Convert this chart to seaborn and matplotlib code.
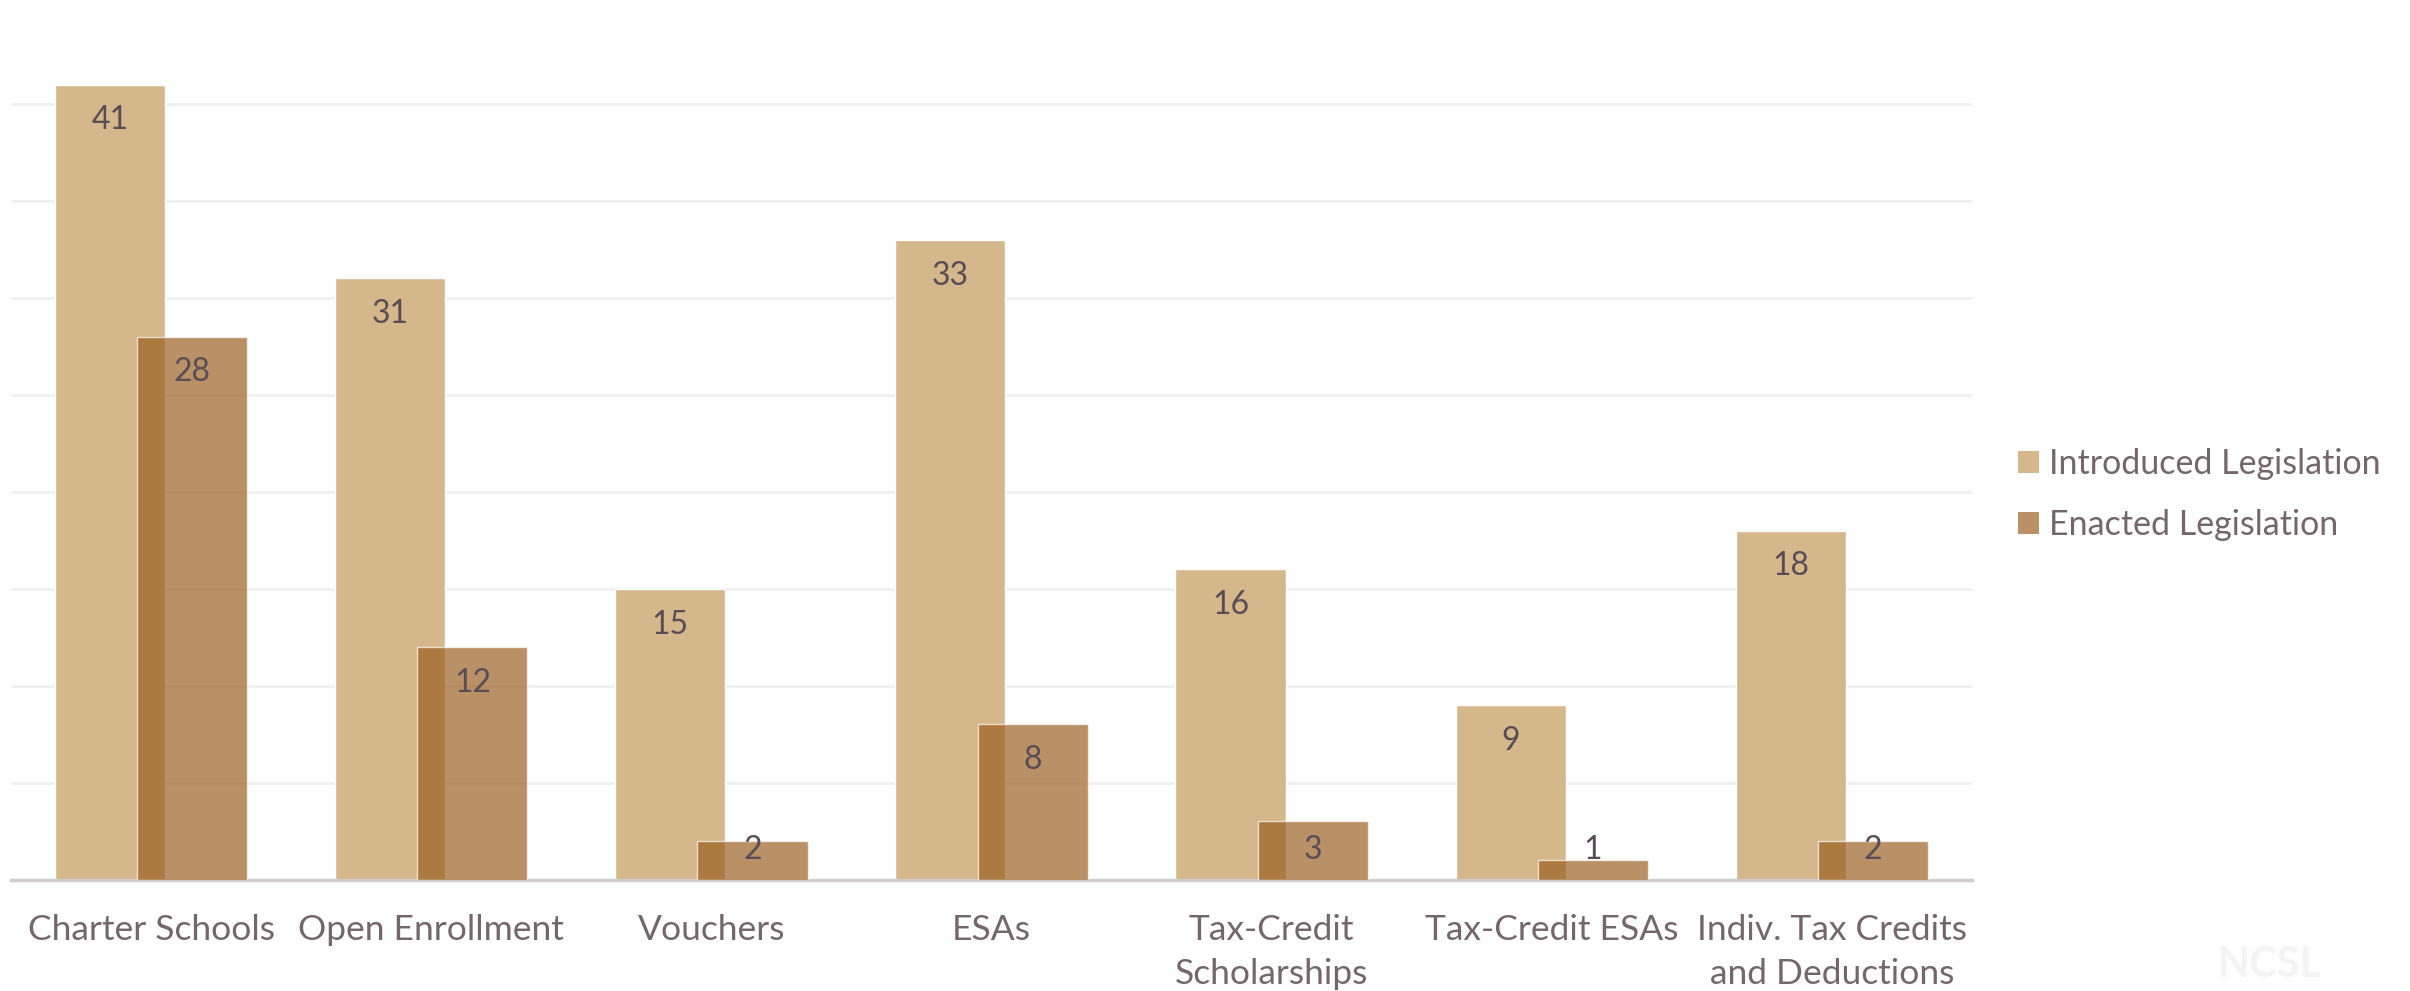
import matplotlib
matplotlib.use("Agg")
import matplotlib.pyplot as plt
import seaborn as sns
import numpy as np
from matplotlib.patches import Patch

categories = ["Charter Schools", "Open Enrollment", "Vouchers", "ESAs",
              "Tax-Credit\nScholarships", "Tax-Credit ESAs",
              "Indiv. Tax Credits\nand Deductions"]
introduced = [41, 31, 15, 33, 16, 9, 18]
enacted = [28, 12, 2, 8, 3, 1, 2]
series_names = ["Introduced Legislation", "Enacted Legislation"]

sns.set_theme(style="white")
plt.rcParams['font.family'] = ['Lato', 'DejaVu Sans']

INTRO_COLOR = "#D4B78A"
ENACT_COLOR = (154/255, 93/255, 29/255)
ENACT_ALPHA = 0.68
ENACT_LEGEND = "#BA9165"
LABEL_COLOR = "#594D55"
TEXT_COLOR = "#73676C"

fig = plt.figure(figsize=(24.10, 9.91), dpi=100)
ax = fig.add_axes([11/2410, 1 - 879.5/991, (1972 - 11)/2410, (879.5 - 7)/991])

idx = np.arange(len(categories))
off = 0.147
w = 0.393

sns.barplot(x=idx - off, y=introduced, native_scale=True, width=w,
            color=INTRO_COLOR, saturation=1, ax=ax, zorder=2)
sns.barplot(x=idx + off, y=enacted, native_scale=True, width=w,
            color=ENACT_COLOR, saturation=1, alpha=ENACT_ALPHA, ax=ax, zorder=3)

ax.set_xlim(-0.5, len(categories) - 0.5)
ax.set_ylim(0, 45)
ax.set_yticks(np.arange(0, 41, 5))
ax.yaxis.grid(True, color="#F0F0F0", linewidth=2, zorder=0)
ax.xaxis.grid(False)
ax.set_axisbelow(True)
ax.tick_params(axis='y', left=False, labelleft=False)
ax.tick_params(axis='x', bottom=False, pad=19, labelsize=25.5, labelcolor=TEXT_COLOR)
ax.set_xticks(idx)
ax.set_xticklabels(categories, linespacing=1.45)
for s in ["top", "right", "left"]:
    ax.spines[s].set_visible(False)
ax.spines["bottom"].set_color("#D0CBCD")
ax.spines["bottom"].set_linewidth(2.5)
ax.set_xlabel("")
ax.set_ylabel("")

def label_y(v):
    return max(v - 1.85, 1.5)

for i, v in enumerate(introduced):
    ax.text(i - off, label_y(v), str(v), ha="center", va="center",
            fontsize=23, color=LABEL_COLOR, zorder=5)
for i, v in enumerate(enacted):
    ax.text(i + off, label_y(v), str(v), ha="center", va="center",
            fontsize=23, color=LABEL_COLOR, zorder=5)

handles = [Patch(facecolor=INTRO_COLOR, edgecolor="none"),
           Patch(facecolor=ENACT_LEGEND, edgecolor="none")]
fig.legend(handles, series_names, loc="center left",
           bbox_to_anchor=(2018/2410, 1 - 494.5/991), frameon=False,
           fontsize=24.5, labelcolor=TEXT_COLOR, handlelength=0.62,
           handleheight=0.62, handletextpad=0.3, labelspacing=0.85,
           borderpad=0, borderaxespad=0)

fig.text(2270/2410, 1 - 965/991, "NCSL", ha="center", va="center",
         fontsize=30, fontweight="bold", color="#F4F4F4")

fig.savefig("out.png", dpi=100)
